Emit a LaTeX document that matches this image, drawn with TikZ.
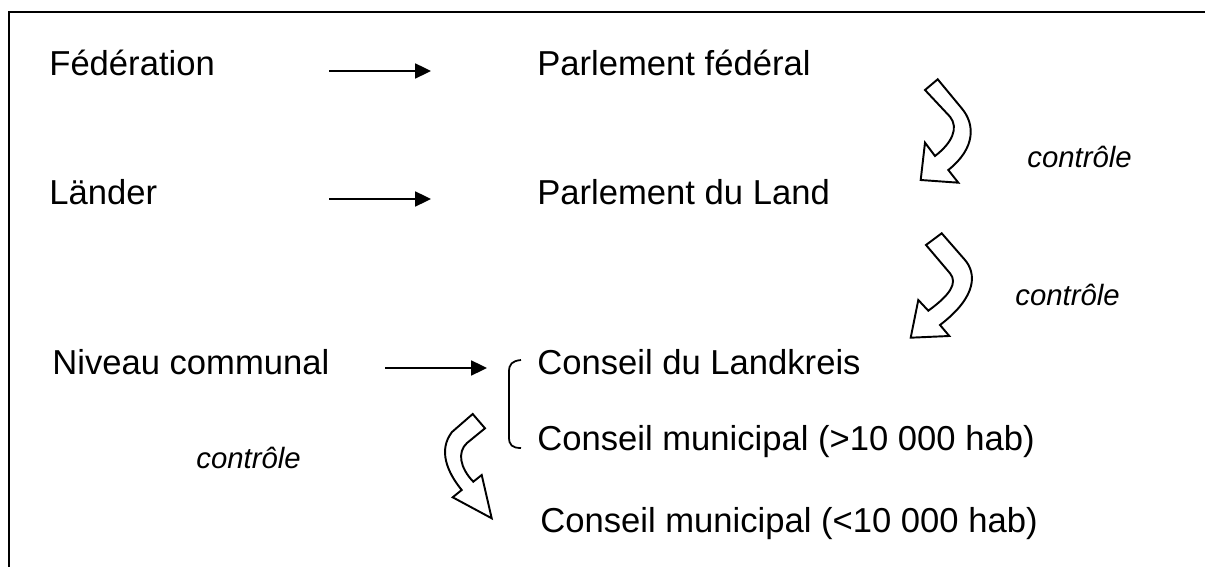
\documentclass[tikz,border=0pt]{standalone}
\usepackage{fontspec}
\setmainfont{Liberation Sans}
\usepackage{tikz}
\usetikzlibrary{arrows.meta}

\begin{document}
\begin{tikzpicture}[x=0.02cm,y=-0.02cm,
    lbl/.style={anchor=base west,inner sep=0pt,font=\fontsize{19.7}{23}\selectfont},
    ctrl/.style={anchor=base west,inner sep=0pt,font=\fontsize{16.7}{20}\selectfont\itshape},
    link/.style={line width=1.1pt,-{Triangle[length=9pt,width=8.5pt]}},
    bent/.style={line width=1.1pt,line join=miter,fill=white}]
            % Page
            \useasboundingbox (0,0) rectangle (1205,567);
            \draw[line width=1.1pt] (9,567) -- (9,12) -- (1205,12);
            % Levels
            \node[lbl] (fed) at (49,76) {Fédération};
            \node[lbl] (laender) at (49,205) {Länder};
            \node[lbl] (commune) at (52,375) {Niveau communal};
            % Assemblies
            \node[lbl] (bundestag) at (537,76) {Parlement fédéral};
            \node[lbl] (landtag) at (537,205) {Parlement du Land};
            \node[lbl] (kreistag) at (537,375) {Conseil du Landkreis};
            \node[lbl] (gross) at (537,451) {Conseil municipal (>10 000 hab)};
            \node[lbl] (klein) at (540,533) {Conseil municipal (<10 000 hab)};
            % Arrow ends
            \coordinate (a1) at (329,71);   % federation
            \coordinate (b1) at (431,71);
            \coordinate (a2) at (329,199);  % laender
            \coordinate (b2) at (431,199);
            \coordinate (a3) at (385,368);  % communes
            \coordinate (b3) at (487,368);
            \draw[link] (a1) -- (b1);
            \draw[link] (a2) -- (b2);
            \draw[link] (a3) -- (b3);
            % Bracket
            \coordinate (k1) at (521,360);  % top hook
            \coordinate (k2) at (521,448);  % bottom hook
            \draw[line width=1pt] (k1) .. controls (512,361) and (509,364) .. (509,372)
                -- (509,437) .. controls (509,445) and (512,448) .. (k2);
            % Control arrows
            \draw[bent] (925,90) -- (937.7,79.3) -- (961.7,108.3)
                .. controls (975,124) and (976,148) .. (948.3,170)
                -- (958.3,182.7) -- (920.7,180) -- (925,142.7) -- (935,156)
                .. controls (952,143) and (959,128) .. (950,116.7) -- cycle;
            \draw[bent] (926,245) -- (941.7,233.3) -- (965,260)
                .. controls (976,273) and (978,296) .. (940,325)
                -- (949.3,336) -- (910.7,337.7) -- (918.3,300) -- (928.3,310.7)
                .. controls (950,295) and (958,283) .. (950,273.3) -- cycle;
            \draw[bent] (472.7,414) -- (485,428.3) -- (467,443)
                .. controls (457,452) and (460,468) .. (473.3,481.7)
                -- (481.7,475) -- (491.7,518.3) -- (452.7,497.3) -- (461.7,490)
                .. controls (447,472) and (438,450) .. (452,432) -- cycle;
            % Labels
            \node[ctrl] (c1) at (1027,168) {contrôle};
            \node[ctrl] (c2) at (1015,306) {contrôle};
            \node[ctrl] (c3) at (196,469) {contrôle};
        \end{tikzpicture}
\end{document}
